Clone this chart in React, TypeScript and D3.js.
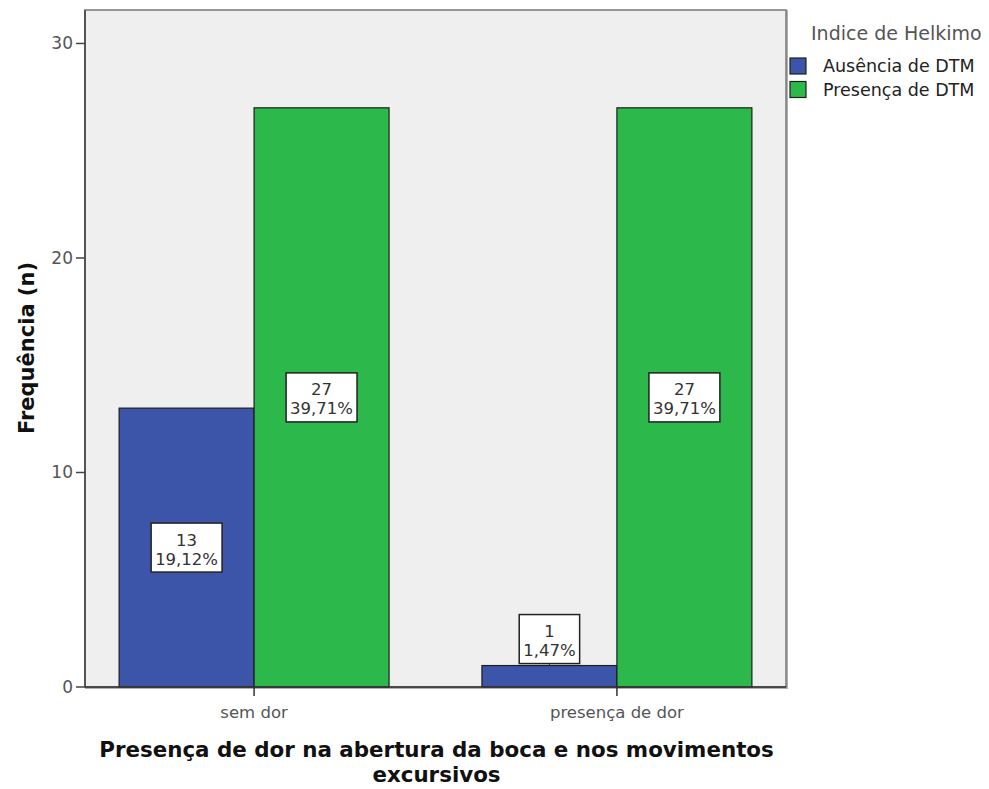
import React from "react";
import * as d3 from "d3";

const categories = ["sem dor", "presença de dor"];
const seriesNames = ["Ausência de DTM", "Presença de DTM"];
const seriesColors = ["#3c55a9", "#2db84b"];
const ausencia = [13, 1];
const presenca = [27, 27];
const ausenciaPct = ["19,12%", "1,47%"];
const presencaPct = ["39,71%", "39,71%"];
const yTicks = [0, 10, 20, 30];
const yTitle = "Frequência (n)";
const xTitleLines = ["Presença de dor na abertura da boca e nos movimentos", "excursivos"];
const legendTitle = "Indice de Helkimo";

const W = 989;
const H = 789;
const plot = { left: 85, right: 786, top: 10, bottom: 687 };
const yMax = 31.56;

const LABEL_FONT = "'DejaVu Sans', sans-serif";

function measure(text: string, size: number, weight = "normal") {
  const c = document.createElement("canvas").getContext("2d");
  if (!c) return text.length * size * 0.6;
  c.font = `${weight} ${size}px DejaVu Sans`;
  return c.measureText(text).width;
}

export default function App() {
  const y = d3.scaleLinear().domain([0, yMax]).range([plot.bottom, plot.top]);
  const x = d3.scalePoint<string>().domain(categories).range([plot.left, plot.right]).padding(0.466);
  const step = x.step();
  const groupW = step * 0.744;
  const inner = d3.scaleBand<number>().domain([0, 1]).range([-groupW / 2, groupW / 2]).padding(0);

  const bars: { cat: string; s: number; v: number; pct: string }[] = [];
  categories.forEach((c, i) => {
    bars.push({ cat: c, s: 0, v: ausencia[i], pct: ausenciaPct[i] });
    bars.push({ cat: c, s: 1, v: presenca[i], pct: presencaPct[i] });
  });

  const fs = 16.5;
  const boxH = 49;

  return (
    <svg width={W} height={H} style={{ display: "block", position: "absolute", left: 0, top: 0 }}>
      <rect x={0} y={0} width={W} height={H} fill="#ffffff" />
      {/* frame shadow */}
      <rect x={plot.left + 1} y={plot.top + 1} width={plot.right - plot.left} height={plot.bottom - plot.top} fill="none" stroke="#b0b0b0" strokeWidth={2} />
      <rect x={plot.left} y={plot.top} width={plot.right - plot.left} height={plot.bottom - plot.top} fill="#efefef" stroke="#7a7a7a" strokeWidth={1.5} />

      {/* bars */}
      {bars.map((b, i) => {
        const cx = (x(b.cat) as number) + (inner(b.s) as number);
        return (
          <rect key={i} x={cx} y={y(b.v)} width={inner.bandwidth()} height={y(0) - y(b.v)} fill={seriesColors[b.s]} stroke="#1e1e1e" strokeWidth={1.2} />
        );
      })}

      {/* y axis */}
      <line x1={plot.left} x2={plot.left} y1={plot.top} y2={plot.bottom} stroke="#555" strokeWidth={2} />
      {yTicks.map((t) => (
        <g key={t}>
          <line x1={plot.left - 9} x2={plot.left} y1={y(t)} y2={y(t)} stroke="#444" strokeWidth={1.5} />
          <text x={plot.left - 12} y={y(t)} dy="0.35em" textAnchor="end" fontFamily={LABEL_FONT} fontSize={17} fill="#555">{t}</text>
        </g>
      ))}
      {/* x axis */}
      <line x1={plot.left} x2={plot.right} y1={plot.bottom} y2={plot.bottom} stroke="#333" strokeWidth={1.5} />
      {categories.map((c) => (
        <g key={c}>
          <line x1={x(c)} x2={x(c)} y1={plot.bottom} y2={plot.bottom + 9} stroke="#333" strokeWidth={1.5} />
          <text x={x(c)} y={plot.bottom + 31} textAnchor="middle" fontFamily={LABEL_FONT} fontSize={16.5} fill="#555">{c}</text>
        </g>
      ))}

      {/* labels */}
      {bars.map((b, i) => {
        const cx = (x(b.cat) as number) + (inner(b.s) as number) + inner.bandwidth() / 2;
        const barH = y(0) - y(b.v);
        const tw = Math.max(measure(String(b.v), fs), measure(b.pct, fs));
        const bw = tw + 8;
        let cy = (y(0) + y(b.v)) / 2;
        const inside = barH > boxH + 10;
        if (!inside) cy = y(b.v) - 2 - boxH / 2;
        return (
          <g key={"l" + i}>
            {!inside && <line x1={cx} x2={cx} y1={cy + boxH / 2} y2={y(b.v)} stroke="#333" strokeWidth={1} />}
            <rect x={cx - bw / 2} y={cy - boxH / 2} width={bw} height={boxH} fill="#ffffff" stroke="#222" strokeWidth={1.5} />
            <text x={cx} y={cy - 2} textAnchor="middle" fontFamily={LABEL_FONT} fontSize={fs} fill="#333">{b.v}</text>
            <text x={cx} y={cy + 17} textAnchor="middle" fontFamily={LABEL_FONT} fontSize={fs} fill="#333">{b.pct}</text>
          </g>
        );
      })}

      {/* y title */}
      <text transform={`translate(34, 348) rotate(-90)`} textAnchor="middle" fontFamily={LABEL_FONT} fontWeight="bold" fontSize={21} fill="#111">{yTitle}</text>

      {/* x title */}
      {xTitleLines.map((l, i) => (
        <text key={i} x={(plot.left + plot.right) / 2 + 1} y={757 + i * 25} textAnchor="middle" fontFamily={LABEL_FONT} fontWeight="bold" fontSize={21.4} fill="#111">{l}</text>
      ))}

      {/* legend */}
      <text x={811} y={40} fontFamily={LABEL_FONT} fontSize={19} fill="#555">{legendTitle}</text>
      {seriesNames.map((n, i) => (
        <g key={n}>
          <rect x={790} y={58 + i * 23.5} width={16} height={16} fill={seriesColors[i]} stroke="#1e1e1e" strokeWidth={1.2} />
          <text x={823} y={66 + i * 23.5} dy="0.35em" fontFamily={LABEL_FONT} fontSize={17.5} fill="#222">{n}</text>
        </g>
      ))}
    </svg>
  );
}
